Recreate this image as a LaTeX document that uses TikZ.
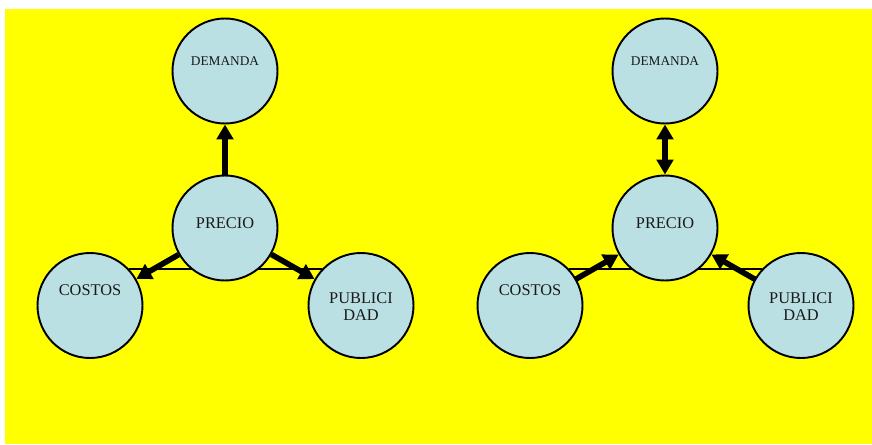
\documentclass[tikz,border=0pt]{standalone}
\usepackage{fontspec}
\setmainfont{Liberation Serif}
\usepackage{tikz}
\usetikzlibrary{arrows.meta, backgrounds}

\definecolor{bubblefill}{RGB}{187,224,228}
\definecolor{bgyellow}{RGB}{255,255,0}
\tikzset{
    bubble/.style={circle, draw=black, line width=1.1pt, fill=bubblefill, minimum size=2.1cm, inner sep=0pt},
    bubbletext/.style={font=\fontsize{9.3}{9.6}\selectfont, align=center, text=black!90},
    smalltext/.style={font=\fontsize{7.6}{9}\selectfont, text=black!90},
    fatarrow/.style={line width=3.2pt, -{Triangle[length=0.3cm, width=0.33cm]}},
    fatboth/.style={line width=3.2pt, {Triangle[length=0.3cm, width=0.33cm]}-{Triangle[length=0.3cm, width=0.33cm]}},
    thinlink/.style={line width=0.7pt}
}

\begin{document}
\begin{tikzpicture}
    \useasboundingbox (0, 0) rectangle (17.44, 8.88);

    % Left diagram: PRECIO drives the others
    \node[bubble] (demL) at (4.5, 7.46) {};
    \node[bubble] (preL) at (4.5, 4.32) {};
    \node[bubble] (cosL) at (1.8, 2.77) {};
    \node[bubble] (pubL) at (7.22, 2.77) {};
    \node[smalltext] (demLt) at ([yshift=0.2cm]demL.center) {DEMANDA};
    \node[bubbletext] (preLt) at ([yshift=0.1cm]preL.center) {PRECIO};
    \node[bubbletext] (cosLt) at ([yshift=0.3cm]cosL.center) {COSTOS};
    \node[bubbletext] (pubLt) at ([yshift=-0.02cm]pubL.center) {PUBLICI\\DAD};

    \draw[fatarrow] (preL.north) -- (demL.south);
    \draw[fatarrow] (preL) -- (cosL);
    \draw[fatarrow] (preL) -- (pubL);

    % Right diagram: the others drive PRECIO
    \begin{scope}[xshift=8.8cm]
        \node[bubble] (demR) at (4.5, 7.46) {};
        \node[bubble] (preR) at (4.5, 4.32) {};
        \node[bubble] (cosR) at (1.8, 2.77) {};
        \node[bubble] (pubR) at (7.22, 2.77) {};
        \node[smalltext] (demRt) at ([yshift=0.2cm]demR.center) {DEMANDA};
        \node[bubbletext] (preRt) at ([yshift=0.1cm]preR.center) {PRECIO};
        \node[bubbletext] (cosRt) at ([yshift=0.3cm]cosR.center) {COSTOS};
        \node[bubbletext] (pubRt) at ([yshift=-0.02cm]pubR.center) {PUBLICI\\DAD};

        \draw[fatboth] (preR.north) -- (demR.south);
        \draw[fatarrow, shorten <=1.05cm] (cosR.center) -- (preR);
        \draw[fatarrow, shorten <=1.05cm] (pubR.center) -- (preR);
    \end{scope}

    % Yellow background and the thin links behind PRECIO
    \begin{pgfonlayer}{background}
        \fill[bgyellow] (0.1, 0) rectangle (17.44, 8.7);
        \draw[thinlink] (cosL.43) -- (pubL.137);
        \draw[thinlink] (cosR.43) -- (pubR.137);
    \end{pgfonlayer}
\end{tikzpicture}
\end{document}
